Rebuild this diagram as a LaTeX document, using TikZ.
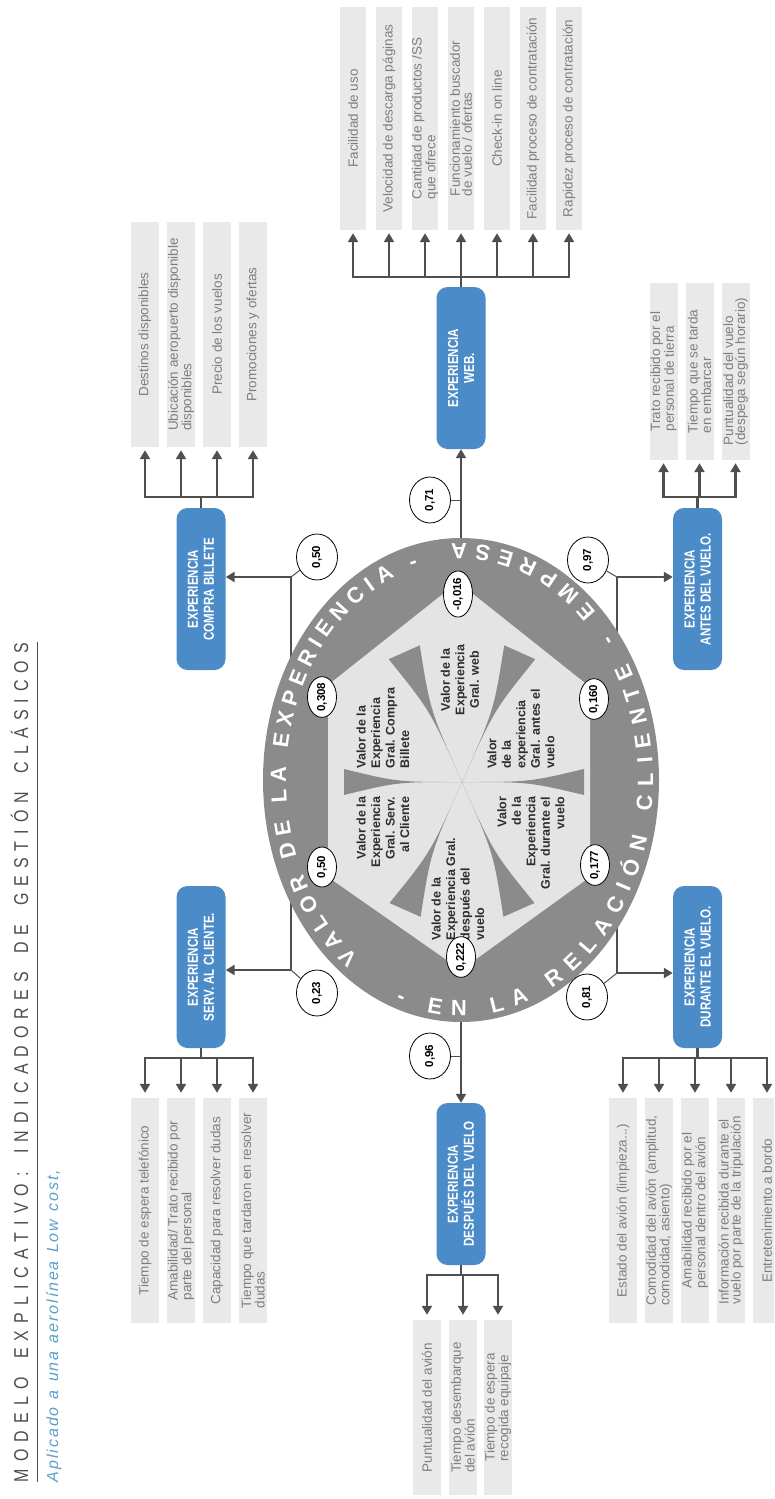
\documentclass[tikz,border=0pt]{standalone}
\usepackage{fontspec}
\setmainfont{Liberation Sans}
\newfontfamily\narrowfont[FakeStretch=0.8]{Liberation Sans}
\usetikzlibrary{arrows.meta,decorations.text,calc,shapes.geometric}

\definecolor{boxblue}{HTML}{4A8BC8}
\definecolor{ringgray}{HTML}{8B8B8B}
\definecolor{innerlight}{HTML}{E4E4E4}
\definecolor{itemfill}{HTML}{E9E9E9}
\definecolor{itemtext}{HTML}{7E7E7E}
\definecolor{wire}{HTML}{4F4F4F}
\definecolor{subblue}{HTML}{5A9FC6}
\definecolor{titlegray}{HTML}{4E4E4E}
\definecolor{sectorink}{HTML}{2E2E2E}

\newcommand\titlestyle{\narrowfont\fontsize{20}{20}\selectfont}
\newcommand\subtitlestyle{\itshape\fontsize{16}{16}\selectfont}
\newcommand\ringstyle{\bfseries\fontsize{22}{22}\selectfont}

\tikzset{
  expbox/.style={rounded corners=11pt, fill=boxblue, rotate=90, minimum width=162pt,
    minimum height=49pt, inner sep=2pt, text=white, align=center,
    font=\narrowfont\bfseries\fontsize{14.5}{16}\selectfont},
  listbox/.style={fill=itemfill, rotate=90, inner sep=0pt, text=itemtext, align=left,
    font=\fontsize{13.5}{12}\selectfont},
  longlist/.style={listbox, minimum width=225pt, minimum height=28pt},
  weblist/.style={listbox, minimum width=223pt, minimum height=26pt},
  shortlist/.style={listbox, minimum width=177pt, minimum height=28pt},
  wirelink/.style={draw=wire, line width=2.6pt},
  wirearrow/.style={draw=wire, line width=2.6pt, -{Triangle[length=9pt,width=10pt]}},
  thinlink/.style={draw=wire, line width=1pt},
  valbubble/.style={ellipse, draw=black, line width=0.8pt, fill=white, rotate=90,
    inner sep=0pt, font=\bfseries\fontsize{11.5}{12}\selectfont},
  outerval/.style={valbubble, minimum width=46pt, minimum height=41pt},
  innerval/.style={valbubble, minimum width=40pt, minimum height=29pt},
  sectorlabel/.style={rotate=90, text=sectorink, inner sep=0pt,
    font=\bfseries\fontsize{12.5}{14.5}\selectfont},
}

\begin{document}
\begin{tikzpicture}[x=1pt,y=1pt]
\useasboundingbox (0,0) rectangle (774,-1499);
\clip (0,0) rectangle (774,-1499);

% ---- heading ----
\path[decorate, decoration={text along path, text color=titlegray, text align=fit to path,
  text={|\titlestyle|MODELO EXPLICATIVO: INDICADORES DE GESTIÓN CLÁSICOS}}]
  (28,-1482) -- (28,-643);
\draw[titlegray, line width=1pt] (37,-642) -- (37,-1482);
\path[decorate, decoration={text along path, text color=subblue, text align=fit to path,
  text={|\subtitlestyle|Aplicado a una aerolínea Low cost,}}]
  (58,-1482) -- (58,-1170);

% ---- side trunks behind the wheel ----
\coordinate (lt) at (291,-577);
\coordinate (lb) at (291,-970);
\coordinate (rt) at (617,-577);
\coordinate (rb) at (617,-973);
\draw[wirelink] (lt) -- (lb);
\draw[wirelink] (rt) -- (rb);

% ---- the wheel ----
\node[ellipse, fill=ringgray, minimum width=396pt, minimum height=484pt, inner sep=0pt]
  (ring) at (461,-780) {};
\fill[innerlight] (328,-685) -- (458,-582) -- (590,-687) -- (590,-877) -- (461,-970)
  -- (328,-877) -- cycle;
\coordinate (hub) at (462,-782);
\foreach \ang/\len/\hw in {114/142/17, 66/142/17, 180/118/13, 0/122/13, 246/140/17, 294/140/17}{
  \fill[ringgray] (hub) .. controls ($(hub)+(\ang:0.55*\len)$) ..
    ($(hub)+(\ang:\len)+(\ang+90:\hw)$) -- ($(hub)+(\ang:\len)+(\ang-90:\hw)$)
    .. controls ($(hub)+(\ang:0.55*\len)$) .. (hub);
}

\path[decorate, decoration={text along path, text color=white, text align=fit to path,
  text={|\ringstyle|VALOR DE LA EXPERIENCIA -}}]
  (461,-780) ++(234:175pt and 219pt) arc[start angle=234, end angle=104, x radius=175pt, y radius=219pt];
\path[decorate, decoration={text along path, text color=white, text align=fit to path,
  text={|\ringstyle|- EN LA RELACIÓN CLIENTE - EMPRESA}}]
  (461,-780) ++(-110:192pt and 236pt) arc[start angle=-110, end angle=93, x radius=192pt, y radius=236pt];

\node[sectorlabel, align=left]   (sc) at (383,-728) {Valor de la\\Experiencia\\Gral. Compra\\Billete};
\node[sectorlabel, align=center] (sw) at (460,-680) {Valor de la\\Experiencia\\Gral. web};
\node[sectorlabel, align=left]   (sa) at (521,-729) {Valor\\de la\\experiencia\\Gral. antes el\\vuelo};
\node[sectorlabel, align=right]  (ss) at (383,-832) {Valor de la\\Experiencia\\Gral. Serv.\\al Cliente};
\node[sectorlabel, align=left]   (sp) at (458,-889) {Valor de la\\Experiencia Gral.\\después del\\vuelo};
\node[sectorlabel, align=right]  (sd) at (531,-843) {Valor\\de la\\Experiencia\\Gral. durante el\\vuelo};

\node[innerval] (i1) at (322,-697) {0,308};
\node[innerval] (i2) at (458,-594) {-0,016};
\node[innerval] (i3) at (594,-699) {0,160};
\node[innerval] (i4) at (595,-865) {0,177};
\node[innerval] (i5) at (461,-957) {0,222};
\node[innerval] (i6) at (322,-867) {0,50};

% ---- experience boxes ----
\node[expbox] (web)     at (461,-368)   {EXPERIENCIA\\WEB.};
\node[expbox] (compra)  at (201,-589)   {EXPERIENCIA\\COMPRA BILLETE};
\node[expbox] (antes)   at (697.5,-589) {EXPERIENCIA\\ANTES DEL VUELO.};
\node[expbox] (serv)    at (201,-967)   {EXPERIENCIA\\SERV. AL CLIENTE.};
\node[expbox] (durante) at (697.5,-967) {EXPERIENCIA\\DURANTE EL VUELO.};
\node[expbox] (despues) at (461,-1184)  {EXPERIENCIA\\DESPUÉS DEL VUELO};

% ---- main connectors ----
\draw[wirearrow] (ring.north) -- (ring.north |- web.west);
\draw[wirearrow] (ring.south) -- (ring.south |- despues.east);
\draw[wirearrow] (lt) -- (lt -| compra.south);
\draw[wirearrow] (lb) -- (lb -| serv.south);
\draw[wirearrow] (rt) -- (rt -| antes.north);
\draw[wirearrow] (rb) -- (rb -| durante.north);

% ---- weights ----
\node[outerval] (b071) at (430,-500)  {0,71};
\node[outerval] (b050) at (317,-557)  {0,50};
\node[outerval] (b097) at (588,-560)  {0,97};
\node[outerval] (b023) at (317,-993)  {0,23};
\node[outerval] (b081) at (587,-997)  {0,81};
\node[outerval] (b096) at (430,-1056) {0,96};
\draw[thinlink] (b071) -- (b071 -| ring.north);
\draw[thinlink] (b096) -- (b096 -| ring.south);
\draw[thinlink] (b050) -- (lt);
\draw[thinlink] (b097) -- (rt);
\draw[thinlink] (b023) -- (lb);
\draw[thinlink] (b081) -- (rb);

% ---- indicator lists ----
\node[weblist] (w1) at (353,-118.5) {Facilidad de uso};
\node[weblist] (w2) at (389,-118.5) {Velocidad de descarga páginas};
\node[weblist] (w3) at (425,-118.5) {Cantidad de productos /SS\\que ofrece};
\node[weblist] (w4) at (461,-118.5) {Funcionamiento buscador\\de vuelo / ofertas};
\node[weblist] (w5) at (497,-118.5) {Check-in on line};
\node[weblist] (w6) at (533,-118.5) {Facilidad proceso de contratación};
\node[weblist] (w7) at (569,-118.5) {Rapidez proceso de contratación};

\node[longlist] (c1) at (145,-334.5) {Destinos disponibles};
\node[longlist] (c2) at (181,-334.5) {Ubicación aeropuerto disponible\\disponibles};
\node[longlist] (c3) at (217,-334.5) {Precio de los vuelos};
\node[longlist] (c4) at (253,-334.5) {Promociones y ofertas};

\node[shortlist] (a1) at (663.5,-371.5) {Trato recibido por el\\personal de tierra};
\node[shortlist] (a2) at (699.5,-371.5) {Tiempo que se tarda\\en embarcar};
\node[shortlist] (a3) at (735.5,-371.5) {Puntualidad del vuelo\\(despega según horario)};

\node[longlist] (s1) at (145,-1210.5) {Tiempo de espera telefónico};
\node[longlist] (s2) at (181,-1210.5) {Amabilidad/ Trato recibido por\\parte del personal};
\node[longlist] (s3) at (217,-1210.5) {Capacidad para resolver dudas};
\node[longlist] (s4) at (253,-1210.5) {Tiempo que tardaron en resolver\\dudas};

\node[longlist] (d1) at (623,-1210.5) {Estado del avión (limpieza...)};
\node[longlist] (d2) at (659,-1210.5) {Comodidad del avión (amplitud,\\comodidad, asiento)};
\node[longlist] (d3) at (695,-1210.5) {Amabilidad recibido por el\\personal dentro del avión};
\node[longlist] (d4) at (731,-1210.5) {Información recibida durante el\\vuelo por parte de la tripulación};
\node[longlist] (d5) at (767,-1210.5) {Entretenimiento a bordo};

\node[listbox, minimum width=175pt, minimum height=28pt] (p1) at (427,-1407.5) {Puntualidad del avión};
\node[listbox, minimum width=175pt, minimum height=28pt] (p2) at (463,-1407.5) {Tiempo desembarque\\del avión};
\node[listbox, minimum width=175pt, minimum height=28pt] (p3) at (498,-1407.5) {Tiempo de espera\\recogida equipaje};

% ---- brackets ----
\coordinate (webbar) at (461,-277);
\coordinate (combar) at (201,-497);
\coordinate (antbar) at (697.5,-497);
\coordinate (serbar) at (201,-1058);
\coordinate (durbar) at (697.5,-1058);
\coordinate (despbar) at (461,-1275);
\foreach \n in {w1,w2,w3,w4,w5,w6,w7}
  \draw[wirearrow, shorten >=3pt] (web.east) -- (web.east |- webbar) -| (\n.west);
\foreach \n in {c1,c2,c3,c4}
  \draw[wirearrow, shorten >=3pt] (compra.east) -- (compra.east |- combar) -| (\n.west);
\foreach \n in {a1,a2,a3}
  \draw[wirearrow, shorten >=3pt] (antes.east) -- (antes.east |- antbar) -| (\n.west);
\foreach \n in {s1,s2,s3,s4}
  \draw[wirearrow, shorten >=5pt] (serv.west) -- (serv.west |- serbar) -| (\n.east);
\foreach \n in {d1,d2,d3,d4,d5}
  \draw[wirearrow, shorten >=5pt] (durante.west) -- (durante.west |- durbar) -| (\n.east);
\foreach \n in {p1,p2,p3}
  \draw[wirearrow, shorten >=5pt] (despues.west) -- (despues.west |- despbar) -| (\n.east);
\end{tikzpicture}
\end{document}
